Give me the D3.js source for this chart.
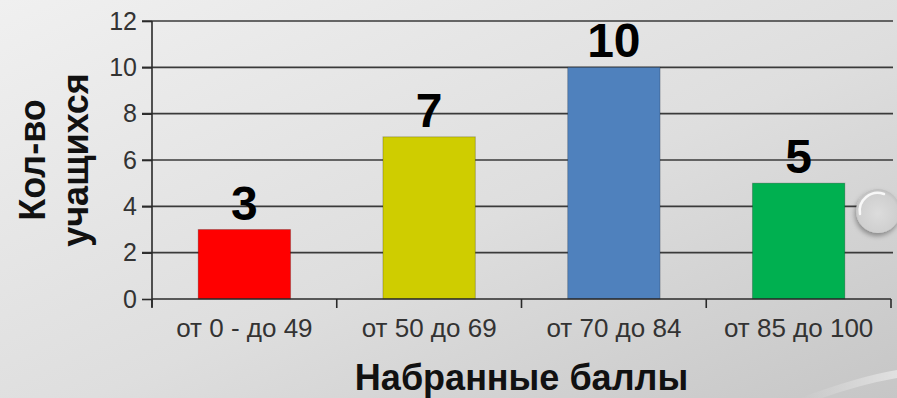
<!DOCTYPE html>
<html>
<head>
<meta charset="utf-8">
<script src="https://cdn.jsdelivr.net/npm/d3@7"></script>
<style>
  html, body { margin: 0; padding: 0; background: #e4e4e4; }
  svg { display: block; }
</style>
</head>
<body>
<svg id="chart" width="897" height="398"></svg>
<script>
// Score bands and number of students in each
const categories = ["от 0 - до 49", "от 50 до 69", "от 70 до 84", "от 85 до 100"];
const students = [3, 7, 10, 5];
const barColors = ["#ff0000", "#cfcd00", "#4f81bd", "#00b050"];
const yTicks = [0, 2, 4, 6, 8, 10, 12];
const yTitleLines = ["Кол-во", "учащихся"];
const xTitle = "Набранные баллы";

const W = 897, H = 398;
const plot = { left: 152, right: 891, top: 21, bottom: 299 };
const FONT = "Arial, 'Liberation Sans', sans-serif";

const svg = d3.select("#chart");
const defs = svg.append("defs");

// slide background: soft grey diagonal gradient
const bg = defs.append("linearGradient").attr("id", "bg")
  .attr("x1", "0").attr("y1", "0").attr("x2", "1").attr("y2", "1");
bg.append("stop").attr("offset", "0").attr("stop-color", "#f0f0f0");
bg.append("stop").attr("offset", "0.55").attr("stop-color", "#dedede");
bg.append("stop").attr("offset", "1").attr("stop-color", "#c6c6c6");
svg.append("rect").attr("width", W).attr("height", H).attr("fill", "url(#bg)");

// faint light swoosh in the lower-right corner
const sw = defs.append("linearGradient").attr("id", "swoosh")
  .attr("x1", "0").attr("y1", "0").attr("x2", "1").attr("y2", "0");
sw.append("stop").attr("offset", "0").attr("stop-color", "#ffffff").attr("stop-opacity", 0);
sw.append("stop").attr("offset", "1").attr("stop-color", "#ffffff").attr("stop-opacity", 0.45);
svg.append("path")
  .attr("d", "M 800 398 Q 860 376 897 370 L 897 378 Q 862 384 822 398 Z")
  .attr("fill", "url(#swoosh)");

// glossy bubble ornament at the right edge
const bub = defs.append("radialGradient").attr("id", "bubble")
  .attr("cx", "0.5").attr("cy", "0.55").attr("r", "0.6");
bub.append("stop").attr("offset", "0").attr("stop-color", "#dcdcdc");
bub.append("stop").attr("offset", "0.75").attr("stop-color", "#cfcfcf");
bub.append("stop").attr("offset", "1").attr("stop-color", "#b4b4b4");
const shadow = defs.append("filter").attr("id", "bshadow")
  .attr("x", "-50%").attr("y", "-50%").attr("width", "200%").attr("height", "200%");
shadow.append("feDropShadow").attr("dx", -1).attr("dy", 3).attr("stdDeviation", 2.5)
  .attr("flood-color", "#000").attr("flood-opacity", 0.35);

const y = d3.scaleLinear().domain([0, 12]).range([plot.bottom, plot.top]);
const x = d3.scaleBand().domain(categories).range([plot.left, plot.right])
  .paddingInner(0.5).paddingOuter(0.25);

// horizontal gridlines with left tick marks
svg.append("g").selectAll("line").data(yTicks.filter(d => d > 0)).join("line")
  .attr("x1", plot.left - 10).attr("x2", plot.right + 2)
  .attr("y1", d => y(d)).attr("y2", d => y(d))
  .attr("stroke", "#3a3a3a").attr("stroke-width", 1.6);

// y axis
const yAxis = svg.append("g").attr("transform", `translate(${plot.left},0)`)
  .call(d3.axisLeft(y).tickValues(yTicks).tickSize(10).tickPadding(5).tickSizeOuter(0));
yAxis.select(".domain").attr("stroke", "#2a2a2a").attr("stroke-width", 1.6)
  .attr("d", `M0,${plot.top}V${plot.bottom + 8}`);
yAxis.selectAll(".tick line").attr("stroke", "#2a2a2a").attr("stroke-width", 1.6);
yAxis.selectAll(".tick text")
  .attr("font-family", FONT).attr("font-size", 25).attr("fill", "#333");

// bars
svg.append("g").selectAll("rect").data(categories).join("rect")
  .attr("x", d => x(d))
  .attr("y", (d, i) => y(students[i]))
  .attr("width", x.bandwidth())
  .attr("height", (d, i) => y(0) - y(students[i]))
  .attr("fill", (d, i) => barColors[i])
  .attr("stroke", "rgba(0,0,0,0.22)").attr("stroke-width", 1);

// x axis: labels centered on bands, ticks on band boundaries
const xAxis = svg.append("g").attr("transform", `translate(0,${plot.bottom})`)
  .call(d3.axisBottom(x).tickSize(0).tickPadding(20));
xAxis.select(".domain").remove();
xAxis.selectAll(".tick text")
  .attr("font-family", FONT).attr("font-size", 26).attr("fill", "#333");
const boundaries = categories.map(c => x(c) - x.step() * x.paddingInner() / 2);
boundaries.push(plot.right);
boundaries[0] = plot.left;
svg.append("line")
  .attr("x1", plot.left).attr("x2", plot.right)
  .attr("y1", plot.bottom).attr("y2", plot.bottom)
  .attr("stroke", "#2a2a2a").attr("stroke-width", 1.6);
svg.append("g").selectAll("line").data(boundaries).join("line")
  .attr("x1", d => d).attr("x2", d => d)
  .attr("y1", plot.bottom).attr("y2", plot.bottom + 9)
  .attr("stroke", "#2a2a2a").attr("stroke-width", 1.6);

// value labels above bars
svg.append("g").selectAll("text").data(categories).join("text")
  .attr("x", d => x(d) + x.bandwidth() / 2)
  .attr("y", (d, i) => y(students[i]) - 10)
  .attr("text-anchor", "middle")
  .attr("font-family", FONT)
  .attr("font-weight", "bold").attr("font-size", 48).attr("fill", "#000")
  .text((d, i) => students[i]);

// axis titles
svg.append("text")
  .attr("x", (plot.left + plot.right) / 2).attr("y", 390)
  .attr("text-anchor", "middle")
  .attr("font-family", FONT)
  .attr("font-weight", "bold").attr("font-size", 36).attr("fill", "#111")
  .text(xTitle);

const yTitle = svg.append("text")
  .attr("transform", `translate(45,${(plot.top + plot.bottom) / 2}) rotate(-90)`)
  .attr("text-anchor", "middle")
  .attr("font-family", FONT)
  .attr("font-weight", "bold").attr("font-size", 36).attr("fill", "#111");
yTitle.selectAll("tspan").data(yTitleLines).join("tspan")
  .attr("x", 0).attr("dy", (d, i) => i === 0 ? 0 : 43)
  .text(d => d);

// bubble drawn last so it sits over the gridline
svg.append("circle").attr("cx", 878).attr("cy", 211).attr("r", 22)
  .attr("fill", "url(#bubble)").attr("filter", "url(#bshadow)");
svg.append("path")
  .attr("d", "M 860 214 A 18 18 0 0 1 884 194")
  .attr("fill", "none").attr("stroke", "#ffffff").attr("stroke-width", 2.5)
  .attr("stroke-linecap", "round").attr("opacity", 0.85);
</script>
</body>
</html>
